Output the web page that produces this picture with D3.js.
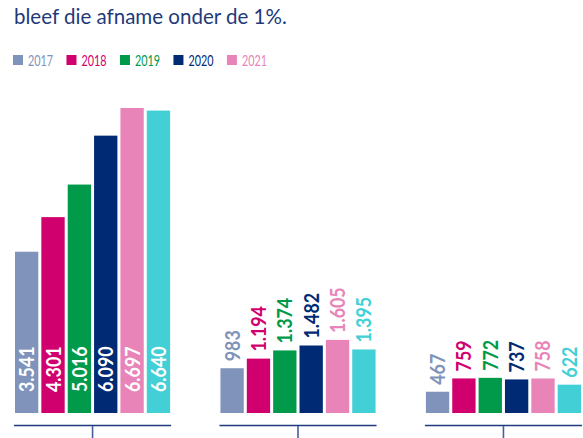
<!DOCTYPE html>
<html>
<head>
<meta charset="utf-8">
<script src="https://cdn.jsdelivr.net/npm/d3@7"></script>
<style>
  html, body { margin: 0; padding: 0; background: #fff; }
  svg { display: block; }
  text { font-family: Lato, 'Open Sans', sans-serif; }
</style>
</head>
<body>
<svg id="chart" width="583" height="438"></svg>
<script>
// ---- data ----
const titleText = "bleef die afname onder de 1%.";
const categories = ["Groep A", "Groep B", "Groep C"];
const series = ["2017", "2018", "2019", "2020", "2021", "2022"];
const legendSeries = ["2017", "2018", "2019", "2020", "2021"];
const values2017 = [3541, 983, 467];
const values2018 = [4301, 1194, 759];
const values2019 = [5016, 1374, 772];
const values2020 = [6090, 1482, 737];
const values2021 = [6697, 1605, 758];
const values2022 = [6640, 1395, 622];
const colors = ["#8094bb", "#d1006f", "#009a4a", "#002a74", "#e884b8", "#42d0d6"];

const seriesValues = [values2017, values2018, values2019, values2020, values2021, values2022];
const rows = categories.map((c, i) => ({
  category: c,
  values: series.map((s, j) => ({ series: s, value: seriesValues[j][i], color: colors[j] }))
}));

const svg = d3.select("#chart");
const baseY = 413;

const x0 = d3.scaleBand().domain(categories).range([15, 581]).paddingInner(0.245).paddingOuter(0);
const x1 = d3.scaleBand().domain(series).range([0, x0.bandwidth()]).paddingInner(0.115).paddingOuter(0);
const maxV = d3.max(seriesValues.flat());
const y = d3.scaleLinear().domain([0, maxV]).range([baseY, 108]);
const color = d3.scaleOrdinal().domain(series).range(colors);
const fmt = v => d3.format(",")(v).replace(/,/g, ".");

// helper: horizontal condense factor so a sample string reaches a target width
function condenseFactor(sample, size, weight, target) {
  const t = svg.append("text").attr("font-size", size).attr("font-weight", weight).text(sample);
  const w = t.node().getComputedTextLength();
  t.remove();
  return target / w;
}

// title
const kTitle = condenseFactor(titleText, 22, "normal", 273);
svg.append("text")
  .attr("transform", `translate(14,24) scale(${kTitle},1)`)
  .attr("font-size", 22)
  .attr("fill", "#1e3a7b")
  .text(titleText);

// legend
const kLeg = condenseFactor("2017", 16, "normal", 25);
const legend = svg.append("g").attr("transform", "translate(13,55)");
let lx = 0;
legendSeries.forEach(s => {
  const g = legend.append("g").attr("transform", `translate(${lx},0)`);
  g.append("rect").attr("width", 10).attr("height", 10).attr("fill", color(s));
  const t = g.append("text")
    .attr("transform", `translate(15,11) scale(${kLeg},1)`)
    .attr("font-size", 16).attr("fill", color(s)).text(s);
  const w = t.node().getComputedTextLength() * kLeg;
  lx += 15 + w + 13.5;
});

// bars
const groups = svg.selectAll("g.grp").data(rows).join("g")
  .attr("class", "grp")
  .attr("transform", d => `translate(${x0(d.category)},0)`);

groups.selectAll("rect").data(d => d.values).join("rect")
  .attr("x", d => x1(d.series))
  .attr("width", x1.bandwidth())
  .attr("y", d => y(d.value))
  .attr("height", d => baseY - y(d.value))
  .attr("fill", d => d.color);

// value labels
const kVal = condenseFactor("983", 21, "bold", 31);
groups.each(function(row, gi) {
  const inside = gi === 0;
  d3.select(this).selectAll("text.val").data(row.values).join("text")
    .attr("class", "val")
    .attr("transform", d => {
      const cx = x1(d.series) + x1.bandwidth() / 2 + 7.5;
      const yy = inside ? baseY - 21 : y(d.value) - 7;
      return `translate(${cx},${yy}) rotate(-90) scale(${kVal},1)`;
    })
    .attr("text-anchor", "start")
    .attr("font-size", 21)
    .attr("font-weight", "bold")
    .attr("fill", d => inside ? "#ffffff" : d.color)
    .text(d => fmt(d.value));
});

// axis lines and ticks
const axisG = svg.append("g");
categories.forEach(c => {
  axisG.append("line")
    .attr("x1", x0(c) - 1).attr("x2", x0(c) + x0.bandwidth() + 1)
    .attr("y1", 425.5).attr("y2", 425.5)
    .attr("stroke", "#1f3b80").attr("stroke-width", 1.6);
  const cx = x0(c) + x0.bandwidth() / 2;
  axisG.append("line")
    .attr("x1", cx).attr("x2", cx)
    .attr("y1", 426).attr("y2", 438)
    .attr("stroke", "#4a5f9a").attr("stroke-width", 1.6);
});
</script>
</body>
</html>
